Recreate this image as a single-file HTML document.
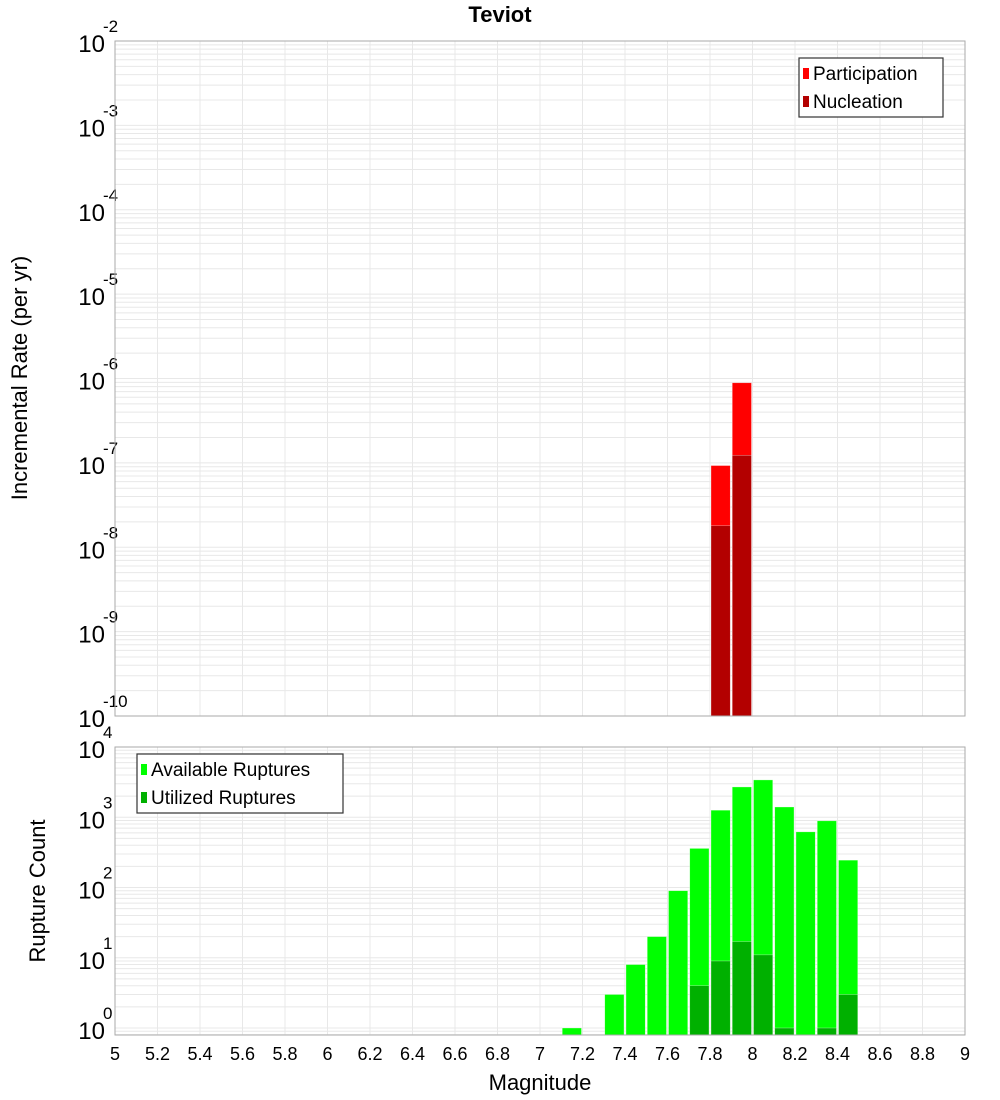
<!DOCTYPE html>
<html><head><meta charset="utf-8"><style>
body{margin:0;background:#fff}
svg{display:block;font-family:"Liberation Sans","DejaVu Sans",sans-serif}
</style></head><body>
<svg id="chart" width="1000" height="1100" viewBox="0 0 1000 1100" xmlns="http://www.w3.org/2000/svg">
<text x="500" y="22" text-anchor="middle" font-size="22" font-weight="bold">Teviot</text>
<g id="top"></g><g id="bot"></g>
<text transform="translate(27,378) rotate(-90)" text-anchor="middle" font-size="22">Incremental Rate (per yr)</text>
<text transform="translate(45,891) rotate(-90)" text-anchor="middle" font-size="22">Rupture Count</text>
<text x="540" y="1090" text-anchor="middle" font-size="22">Magnitude</text>
</svg>
<script>
const xTicks=[5,5.2,5.4,5.6,5.8,6,6.2,6.4,6.6,6.8,7,7.2,7.4,7.6,7.8,8,8.2,8.4,8.6,8.8,9];
const rateMags=[7.85,7.95];
const participation=[9.3e-8,8.9e-7];
const nucleation=[1.8e-8,1.23e-7];
const countMags=[7.15,7.35,7.45,7.55,7.65,7.75,7.85,7.95,8.05,8.15,8.25,8.35,8.45];
const available=[1,3,8,20,90,360,1260,2700,3400,1400,620,890,245];
const utilized=[0,0,0,0,0,4,9,17,11,1,0,1,3];
const NS="http://www.w3.org/2000/svg";
const X0=115,X1=965;
const sx=m=>X0+(m-5)/4*(X1-X0);
function mk(p,t,a){const e=document.createElementNS(NS,t);for(const k in a)e.setAttribute(k,a[k]);p.appendChild(e);return e;}
function panel(g,top,bot,lmin,lmax,name){
  const sy=v=>bot-(Math.log10(v)-lmin)/(lmax-lmin)*(bot-top);
  // grid
  for(let d=Math.floor(lmin);d<Math.ceil(lmax);d++)for(let k=1;k<10;k++){const v=k*Math.pow(10,d);const y=sy(v);if(y<top-0.1||y>bot+0.1)continue;
    const l=mk(g,'line',{x1:X0,x2:X1,y1:y,y2:y,stroke:'#e8e8e8','stroke-width':1});
    
    }
  xTicks.forEach(t=>{const x=sx(t);const l=mk(g,'line',{x1:x,x2:x,y1:top,y2:bot,stroke:'#e8e8e8','stroke-width':1});
    
    });
  // y labels
  for(let d=Math.ceil(lmin);d<=lmax;d++){const y=sy(Math.pow(10,d));
    const t=mk(g,'text',{x:X0-10,y:y+11,'text-anchor':'end','font-size':24});
    
    
    t.textContent='10';
    const s=mk(g,'text',{x:X0-12,y:y-9,'font-size':17});
    
    
    s.textContent=String(d);}
  return sy;
}
function bar(g,m,v,sy,bot,fill,name){if(!(v>0))return;const x=sx(m-0.05)+1,w=sx(m+0.05)-sx(m-0.05)-2;const y=sy(v);
  const r=mk(g,'rect',{x:x,y:y,width:w,height:bot-y,fill:fill,stroke:'#fff','stroke-opacity':0.5,'stroke-width':0.6});
  
  }
function frame(g,top,bot,name){const r=mk(g,'rect',{x:X0,y:top,width:X1-X0,height:bot-top,fill:'none',stroke:'#aaa','stroke-width':1});
  
  }
function legend(g,x,y,w,items,name){const b=mk(g,'rect',{x:x,y:y,width:w,height:59,fill:'#fff',stroke:'#333','stroke-width':1.2});
  
  
  items.forEach((it,i)=>{const cy=y+15+i*28;
    const s=mk(g,'rect',{x:x+4,y:cy-5,width:6,height:11,fill:it[1]});
    
    
    const t=mk(g,'text',{x:x+14,y:cy+7,'font-size':19});
    
    
    t.textContent=it[0];});}
// top panel
const gt=document.getElementById('top');
const T0=41,T1=716;
const syT=panel(gt,T0,T1,-10,-2,'top');
rateMags.forEach((m,i)=>bar(gt,m,participation[i],syT,T1,'#ff0000','participation-bar'));
rateMags.forEach((m,i)=>bar(gt,m,nucleation[i],syT,T1,'#b30000','nucleation-bar'));
frame(gt,T0,T1,'top');
legend(gt,799,58,144,[['Participation','#ff0000'],['Nucleation','#b30000']],'top-legend');
// bottom panel
const gb=document.getElementById('bot');
const B0=747,B1=1035;
const dec=(1028-747)/4;
const syB=panel(gb,B0,B1,-(B1-1028)/dec,4,'bottom');
countMags.forEach((m,i)=>bar(gb,m,available[i],syB,B1,'#00ff00','available-bar'));
countMags.forEach((m,i)=>bar(gb,m,utilized[i],syB,B1,'#00b000','utilized-bar'));
frame(gb,B0,B1,'bottom');
legend(gb,137,754,206,[['Available Ruptures','#00ff00'],['Utilized Ruptures','#00b000']],'bottom-legend');
xTicks.forEach(t=>{const e=mk(gb,'text',{x:sx(t),y:1060,'text-anchor':'middle','font-size':18});
  
  
  e.textContent=String(t);});
</script>
</body></html>
